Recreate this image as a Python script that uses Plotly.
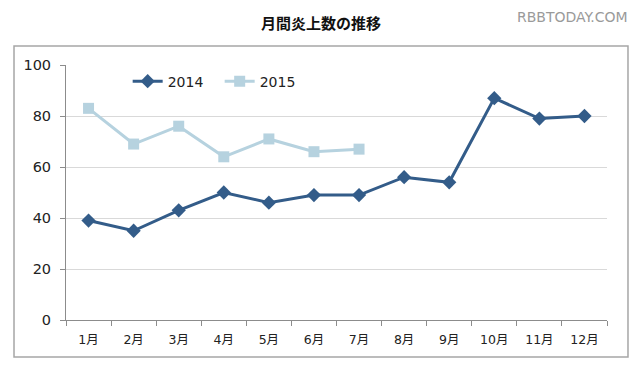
import plotly.graph_objects as go

months = ["1月", "2月", "3月", "4月", "5月", "6月", "7月", "8月", "9月", "10月", "11月", "12月"]
values_2014 = [39, 35, 43, 50, 46, 49, 49, 56, 54, 87, 79, 80]
values_2015 = [83, 69, 76, 64, 71, 66, 67]
y_ticks = [0, 20, 40, 60, 80, 100]

c2014 = "#335C89"
c2015 = "#B6D2DF"

fig = go.Figure()
fig.add_trace(go.Scatter(
    x=months, y=values_2014, name="2014", mode="lines+markers",
    line=dict(color=c2014, width=3),
    marker=dict(symbol="diamond", size=11, color=c2014),
))
fig.add_trace(go.Scatter(
    x=months[:len(values_2015)], y=values_2015, name="2015", mode="lines+markers",
    line=dict(color=c2015, width=3),
    marker=dict(symbol="square", size=11, color=c2015),
))

fig.update_layout(
    width=640, height=368,
    margin=dict(l=58, r=41, t=57, b=56),
    paper_bgcolor="white", plot_bgcolor="white",
    font=dict(family="DejaVu Sans, Noto Sans CJK JP", size=13, color="#222222"),
    showlegend=True,
    legend=dict(orientation="h", x=0.114, y=0.935, xanchor="left", yanchor="middle",
                font=dict(size=14, color="#222222"), bgcolor="rgba(0,0,0,0)",
                itemwidth=30, tracegroupgap=0, entrywidth=47, entrywidthmode="pixels"),
    title=dict(text="<b>月間炎上数の推移</b>", x=0.489, xanchor="center", y=0.958, yanchor="middle",
               font=dict(family="Noto Sans CJK JP", size=15, color="#111111")),
    xaxis=dict(type="category", categoryarray=months, showgrid=False,
               showline=True, linecolor="#8C8C8C", linewidth=1,
               ticks="outside", tickson="boundaries", ticklen=5, tickcolor="#8C8C8C",
               tickfont=dict(family="DejaVu Sans, Noto Sans CJK JP", size=12.5, color="#222222"),
               ticklabelstandoff=8,
               range=[-0.5, 11.5]),
    yaxis=dict(range=[0, 100], tickvals=y_ticks, showgrid=True, gridcolor="#D9D9D9", gridwidth=1,
               showline=True, linecolor="#8C8C8C", linewidth=1,
               ticks="outside", ticklen=5, tickcolor="#8C8C8C", zeroline=False,
               ticklabelstandoff=6,
               tickfont=dict(size=14.5, color="#222222")),
    shapes=[dict(type="rect", xref="paper", yref="paper",
                 x0=-0.0961, x1=1.0388, y0=-0.145, y1=1.0745,
                 line=dict(color="#A6A6A6", width=1.5), fillcolor="rgba(0,0,0,0)", layer="below")],
    annotations=[dict(text="RBBTODAY.COM", xref="paper", yref="paper", x=1.042, y=1.19,
                      xanchor="right", yanchor="middle", showarrow=False,
                      font=dict(family="DejaVu Sans", size=14, color="#9A9A9A"))],
)

fig.write_html("out.html")
